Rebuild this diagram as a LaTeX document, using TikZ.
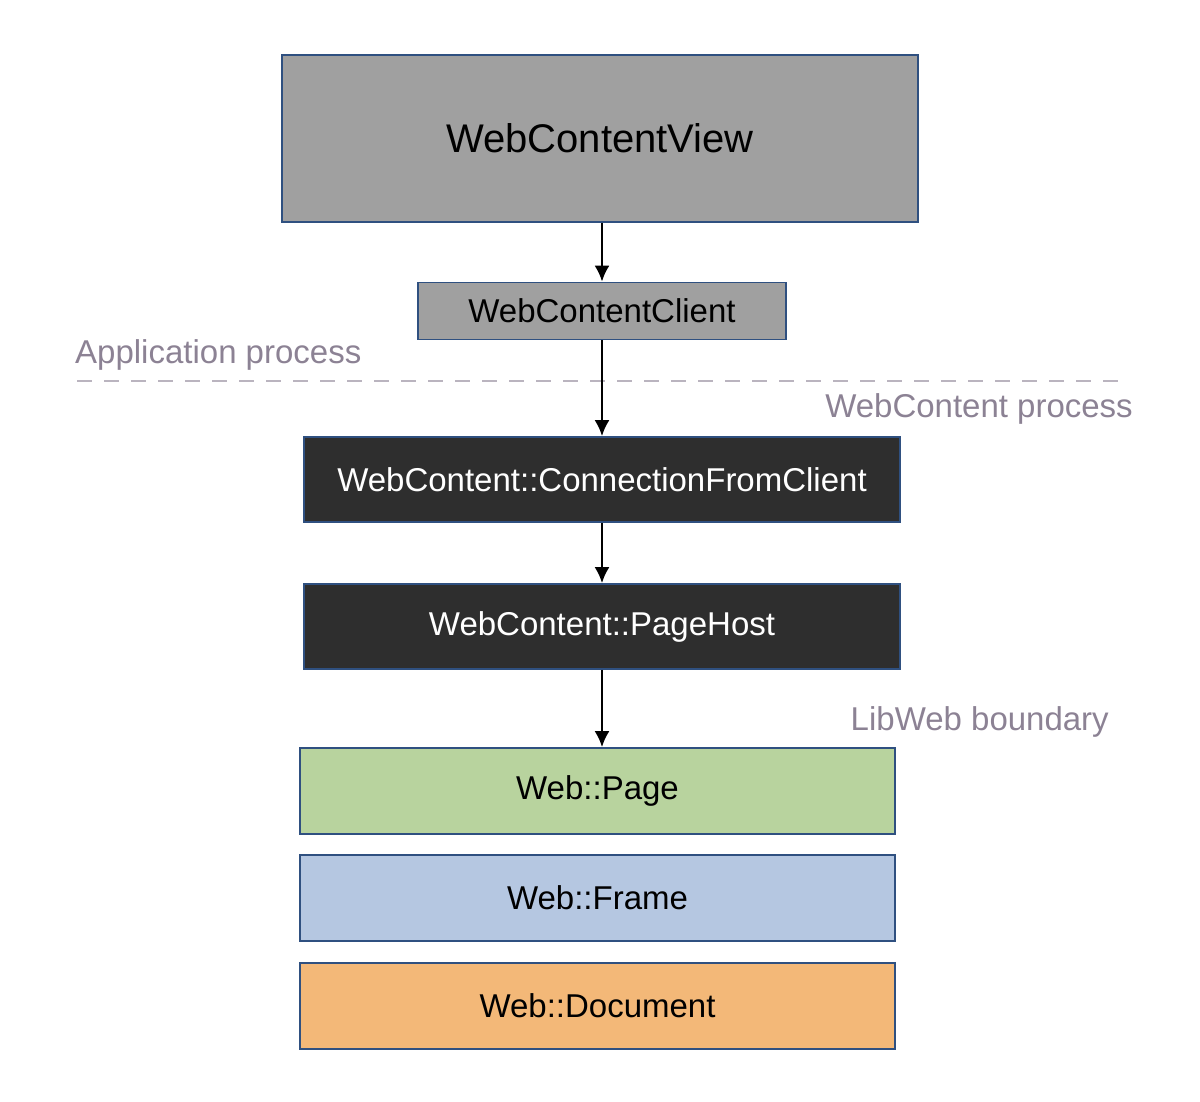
\documentclass[tikz,border=0pt]{standalone}
\usepackage{fontspec}
\setmainfont{Liberation Sans}
\usepackage{tikz}
\usetikzlibrary{positioning,arrows.meta}

\definecolor{boxgray}{HTML}{A0A0A0}
\definecolor{boxdark}{HTML}{2E2E2E}
\definecolor{boxgreen}{HTML}{B8D39E}
\definecolor{boxblue}{HTML}{B5C7E1}
\definecolor{boxorange}{HTML}{F3B878}
\definecolor{boxline}{HTML}{2F5080}
\definecolor{labelgray}{HTML}{8C8294}

\begin{document}
\begin{tikzpicture}[x=1pt,y=-1pt,
                    layer/.style={rectangle,draw=boxline,line width=1.6pt,inner sep=0pt,
                                  font=\fontsize{33}{36}\selectfont},
                    grey/.style={layer,fill=boxgray,text=black},
                    dark/.style={layer,fill=boxdark,text=white},
                    flow/.style={-{Latex[length=16pt,width=15pt]},line width=2.6pt,black},
                    proc/.style={text=labelgray,font=\fontsize{33}{36}\selectfont,inner sep=0pt}
                ]
                \useasboundingbox (0,0) rectangle (1200,1102);
                % application side
                \node[grey,minimum width=636,minimum height=167,
                      font=\fontsize{40}{44}\selectfont] (view) at (600,138.5) {WebContentView};
                \node[grey,minimum width=368,minimum height=57] (client) at (602,311) {WebContentClient};
                % process boundary
                \coordinate (sepL) at (77,381);
                \coordinate (sepR) at (1127,381);
                \draw[labelgray!60,line width=1.2pt,dash pattern=on 15pt off 12pt] (sepL) -- (sepR);
                \node[proc,anchor=west] (appproc) at (75,355) {Application process};
                \node[proc,anchor=east] (wcproc) at (1133,409) {WebContent process};
                % webcontent side
                \node[dark,minimum width=596,minimum height=85] (conn) at (602,479.5) {WebContent::ConnectionFromClient};
                \node[dark,minimum width=596,minimum height=85] (host) at (602,626.5) {WebContent::PageHost};
                \node[proc,anchor=east] (libweb) at (1109,722) {LibWeb boundary};
                % libweb
                \foreach \name/\txt/\col/\y in {page/Web::Page/boxgreen/791,
                                                frame/Web::Frame/boxblue/898,
                                                document/Web::Document/boxorange/1006}
                    {
                    \node[layer,fill=\col,minimum width=595,minimum height=86] (\name) at (597.5,\y) {\txt};
                    }
                \draw[flow] (view.south -| client) -- (client.north);
                \draw[flow] (client.south) -- (conn.north);
                \draw[flow] (conn.south) -- (host.north);
                \draw[flow] (host.south) -- (host.south |- page.north);
                \end{tikzpicture}
\end{document}
